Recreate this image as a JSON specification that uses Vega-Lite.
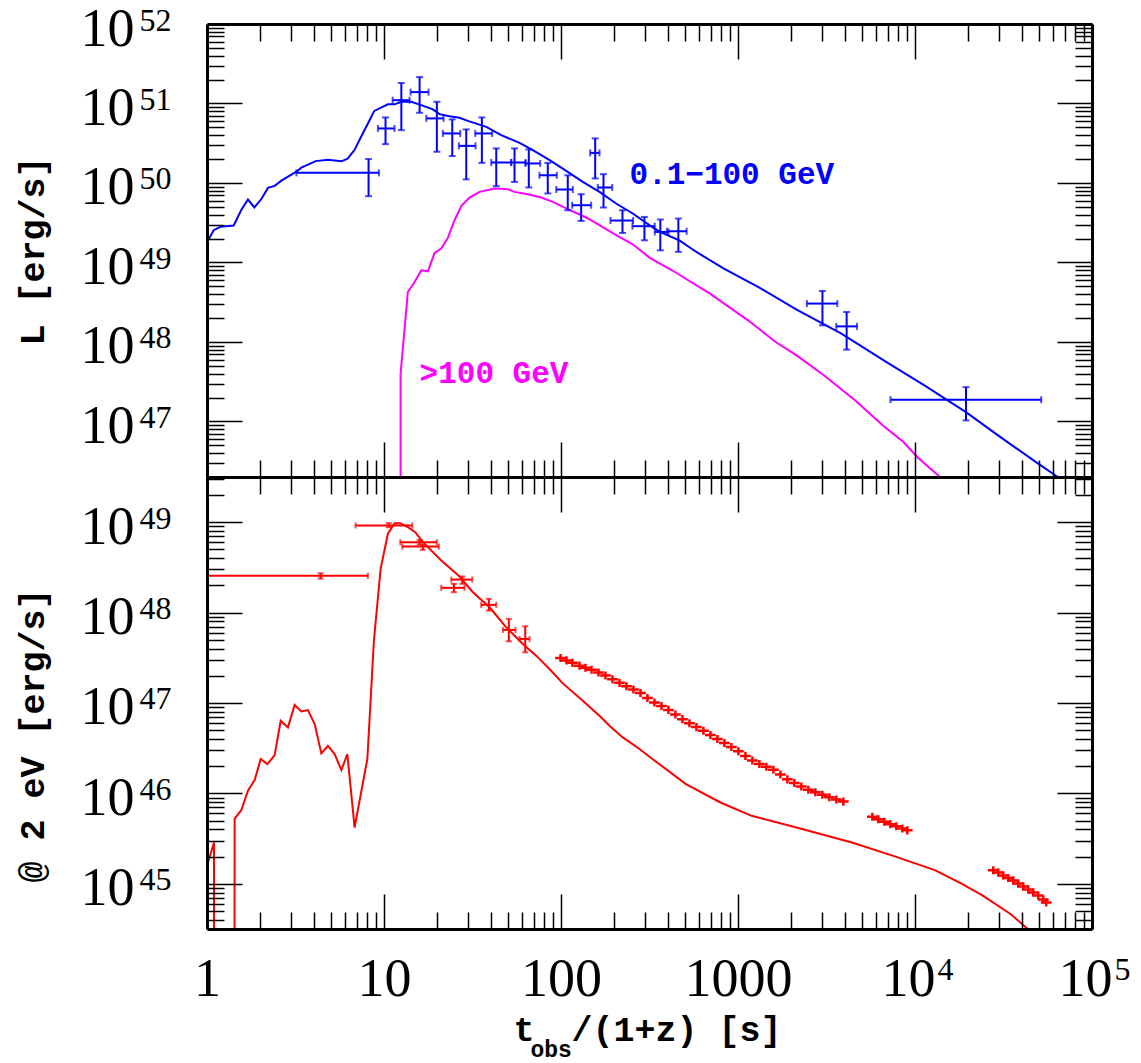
{
  "$schema": "https://vega.github.io/schema/vega-lite/v6.json",
  "padding": {"left": 15, "top": 2, "right": 0, "bottom": 12},
  "background": "white",
  "config": {"view": {"stroke": null}, "axis": {"grid": false}},
  "spacing": 0,
  "bounds": "flush",
  "datasets": {
    "blueModel": [{"x":1.0,"y":1.795e49},{"x":1.091,"y":2.547e49},{"x":1.195,"y":2.818e49},{"x":1.415,"y":2.917e49},{"x":1.564,"y":4.61e49},{"x":1.704,"y":6.19e49},{"x":1.852,"y":4.92e49},{"x":2.028,"y":6.28e49},{"x":2.21,"y":8.67e49},{"x":2.411,"y":9.2e49},{"x":2.631,"y":1.069e50},{"x":3.198,"y":1.387e50},{"x":3.412,"y":1.56e50},{"x":4.111,"y":1.884e50},{"x":4.823,"y":1.963e50},{"x":5.741,"y":1.871e50},{"x":6.232,"y":2.023e50},{"x":6.823,"y":2.612e50},{"x":7.52,"y":4.04e50},{"x":8.111,"y":5.61e50},{"x":8.814,"y":8.07e50},{"x":10.52,"y":9.77e50},{"x":11.48,"y":9.75e50},{"x":12.52,"y":1.05e51},{"x":14.26,"y":1.05e51},{"x":16.24,"y":9.55e50},{"x":18.89,"y":8.43e50},{"x":20.6,"y":7.35e50},{"x":23.46,"y":6.93e50},{"x":26.72,"y":6.61e50},{"x":29.77,"y":6.05e50},{"x":37.83,"y":5.09e50},{"x":45.94,"y":4.0e50},{"x":58.29,"y":3.2e50},{"x":69.3,"y":2.588e50},{"x":86.2,"y":1.936e50},{"x":109.2,"y":1.38e50},{"x":132.8,"y":1.033e50},{"x":164.9,"y":7.73e49},{"x":204.9,"y":5.52e49},{"x":254.3,"y":4.13e49},{"x":316,"y":2.944e49},{"x":362.3,"y":2.421e49},{"x":464.5,"y":1.905e49},{"x":582,"y":1.355e49},{"x":832,"y":8.38e48},{"x":1305,"y":4.91e48},{"x":2143,"y":2.553e48},{"x":3839,"y":1.271e48},{"x":6902,"y":5.58e47},{"x":11300,"y":2.838e47},{"x":19400,"y":1.309e47},{"x":30400,"y":6.34e46},{"x":49900,"y":2.931e46},{"x":61100,"y":2.148e46},{"x":70000,"y":1.746e46}],
    "magentaModel": [{"x":12.41,"y":1e45},{"x":12.41,"y":3.99e47},{"x":13.64,"y":4.25e48},{"x":14.89,"y":5.68e48},{"x":16.24,"y":7.98e48},{"x":17.7,"y":7.74e48},{"x":19.31,"y":1.318e49},{"x":21.06,"y":1.496e49},{"x":22.95,"y":2.037e49},{"x":25.04,"y":3.4e49},{"x":27.33,"y":5.11e49},{"x":30.43,"y":6.56e49},{"x":34.67,"y":7.73e49},{"x":42.13,"y":8.53e49},{"x":50.07,"y":8.36e49},{"x":54.6,"y":7.73e49},{"x":64.9,"y":7.23e49},{"x":77.3,"y":6.56e49},{"x":89.9,"y":5.78e49},{"x":107,"y":4.78e49},{"x":138.7,"y":3.68e49},{"x":164.9,"y":2.944e49},{"x":204.9,"y":2.203e49},{"x":254.3,"y":1.694e49},{"x":316,"y":1.153e49},{"x":424,"y":7.98e48},{"x":695,"y":4.06e48},{"x":1140,"y":1.871e48},{"x":1634,"y":9.98e47},{"x":2143,"y":6.78e47},{"x":3068,"y":3.79e47},{"x":4603,"y":1.837e47},{"x":6590,"y":8.91e46},{"x":8640,"y":5.48e46},{"x":10330,"y":3.55e46},{"x":13540,"y":2.089e46},{"x":15600,"y":1.611e46}],
    "topCross": [
      {"x":8.18,"xlo":3.2,"xhi":9.36,"y":1.34e50,"ylo":6.82e49,"yhi":2.0e50},
      {"x":10.2,"xlo":9.24,"xhi":11.47,"y":4.85e50,"ylo":3.08e50,"yhi":6.68e50},
      {"x":12.53,"xlo":11.19,"xhi":13.95,"y":1.1e51,"ylo":4.62e50,"yhi":1.81e51},
      {"x":15.89,"xlo":14.13,"xhi":17.85,"y":1.39e51,"ylo":7.64e50,"yhi":2.15e51},
      {"x":19.89,"xlo":17.34,"xhi":21.7,"y":6.49e50,"ylo":2.47e50,"yhi":1.05e51},
      {"x":24.3,"xlo":21.51,"xhi":26.97,"y":4.2e50,"ylo":2.18e50,"yhi":6.31e50},
      {"x":29.15,"xlo":26.49,"xhi":32.9,"y":2.93e50,"ylo":1.11e50,"yhi":4.72e50},
      {"x":35.72,"xlo":32.77,"xhi":40.88,"y":4.2e50,"ylo":1.79e50,"yhi":6.68e50},
      {"x":43.07,"xlo":40.36,"xhi":52.34,"y":1.81e50,"ylo":9.11e49,"yhi":2.72e50},
      {"x":54.63,"xlo":52.34,"xhi":63.03,"y":1.81e50,"ylo":1.03e50,"yhi":2.72e50},
      {"x":65.79,"xlo":63.03,"xhi":76.3,"y":1.76e50,"ylo":8.78e49,"yhi":2.64e50},
      {"x":84.2,"xlo":75.6,"xhi":94.7,"y":1.25e50,"ylo":7.38e49,"yhi":1.79e50},
      {"x":109.2,"xlo":94.0,"xhi":116.6,"y":8.28e49,"ylo":4.54e49,"yhi":1.25e50},
      {"x":130.0,"xlo":115.7,"xhi":148.1,"y":5.25e49,"ylo":3.33e49,"yhi":7.22e49},
      {"x":156.0,"xlo":146.2,"xhi":165.0,"y":2.39e50,"ylo":1.14e50,"yhi":3.64e50},
      {"x":173.8,"xlo":161.4,"xhi":194.6,"y":8.78e49,"ylo":4.91e49,"yhi":1.29e50},
      {"x":222.5,"xlo":190.3,"xhi":255.4,"y":3.37e49,"ylo":2.35e49,"yhi":4.54e49},
      {"x":296.1,"xlo":253.1,"xhi":338.6,"y":2.86e49,"ylo":1.9e49,"yhi":3.74e49},
      {"x":364.1,"xlo":338.6,"xhi":405.6,"y":2.42e49,"ylo":1.42e49,"yhi":3.47e49},
      {"x":460.3,"xlo":396.8,"xhi":512.7,"y":2.47e49,"ylo":1.36e49,"yhi":3.57e49},
      {"x":3000,"xlo":2449,"xhi":3641,"y":3.04e48,"ylo":1.62e48,"yhi":4.38e48},
      {"x":4110,"xlo":3590,"xhi":4705,"y":1.57e48,"ylo":8.0e47,"yhi":2.38e48},
      {"x":19410,"xlo":7273,"xhi":51650,"y":1.88e47,"ylo":1.03e47,"yhi":2.7e47}
    ],
    "redModel": [{"x":1.0,"y":1e43},{"x":1.0,"y":1.578e45},{"x":1.095,"y":2.858e45},{"x":1.098,"y":1e43},{"x":1.428,"y":1e43},{"x":1.433,"y":5.27e45},{"x":1.564,"y":6.53e45},{"x":1.704,"y":1.069e46},{"x":1.859,"y":1.403e46},{"x":2.011,"y":2.399e46},{"x":2.193,"y":2.109e46},{"x":2.411,"y":2.655e46},{"x":2.608,"y":6.37e46},{"x":2.866,"y":5.37e46},{"x":3.128,"y":9.51e46},{"x":3.412,"y":8.07e46},{"x":3.718,"y":8.36e46},{"x":4.057,"y":5.85e46},{"x":4.426,"y":2.767e46},{"x":4.823,"y":3.365e46},{"x":5.262,"y":2.723e46},{"x":5.741,"y":1.811e46},{"x":6.206,"y":2.723e46},{"x":6.823,"y":4.19e45},{"x":8.05,"y":2.399e46},{"x":8.22,"y":4.93e46},{"x":8.77,"y":4.9e47},{"x":9.57,"y":3.05e48},{"x":10.52,"y":7.45e48},{"x":11.48,"y":9.75e48},{"x":12.36,"y":9.75e48},{"x":13.64,"y":8.81e48},{"x":15.02,"y":7.74e48},{"x":16.59,"y":6.01e48},{"x":21.06,"y":3.77e48},{"x":26.72,"y":2.506e48},{"x":31.77,"y":1.679e48},{"x":39.48,"y":1.146e48},{"x":49.05,"y":6.87e47},{"x":60.86,"y":4.5e47},{"x":72.4,"y":3.34e47},{"x":86.1,"y":2.377e47},{"x":102.4,"y":1.648e47},{"x":132.8,"y":1.059e47},{"x":144.8,"y":9.1e46},{"x":164.9,"y":7.23e46},{"x":187.8,"y":5.61e46},{"x":223.5,"y":4.16e46},{"x":277.6,"y":3.1e46},{"x":338.6,"y":2.3e46},{"x":507.9,"y":1.268e46},{"x":796.5,"y":7.93e45},{"x":1193.6,"y":5.65e45},{"x":2142,"y":4.19e45},{"x":4397,"y":2.858e45},{"x":7543,"y":2.037e45},{"x":12940,"y":1.416e45},{"x":18550,"y":9.91e44},{"x":24280,"y":7.35e44},{"x":34800,"y":4.6e44},{"x":43570,"y":3.14e44},{"x":50350,"y":2.33e44}],
    "botCross": [
      {"x":4.385,"xlo":0.66,"xhi":8.11,"y":2.55e48,"ylo":2.38e48,"yhi":2.72e48},
      {"x":10.66,"xlo":6.91,"xhi":14.45,"y":9.19e48,"ylo":8.8e48,"yhi":9.75e48},
      {"x":15.89,"xlo":12.36,"xhi":19.89,"y":6.0e48,"ylo":5.66e48,"yhi":6.38e48},
      {"x":16.59,"xlo":12.69,"xhi":20.42,"y":5.38e48,"ylo":4.95e48,"yhi":5.66e48},
      {"x":27.68,"xlo":23.99,"xhi":31.52,"y":2.32e48,"ylo":2.08e48,"yhi":2.51e48},
      {"x":24.81,"xlo":21.06,"xhi":28.52,"y":1.88e48,"ylo":1.68e48,"yhi":2.08e48},
      {"x":39.12,"xlo":35.43,"xhi":43.07,"y":1.217e48,"ylo":1.053e48,"yhi":1.418e48},
      {"x":50.74,"xlo":46.93,"xhi":55.36,"y":6.43e47,"ylo":4.81e47,"yhi":8.52e47},
      {"x":62.8,"xlo":58.3,"xhi":66.4,"y":5.11e47,"ylo":3.63e47,"yhi":7.05e47}
    ],
    "band": [{"x":99.4,"y":3.15e47},{"x":107.4,"y":2.96e47},{"x":116.1,"y":2.78e47},{"x":127.2,"y":2.59e47},{"x":137.5,"y":2.45e47},{"x":148.7,"y":2.33e47},{"x":162.9,"y":2.18e47},{"x":178.4,"y":2.01e47},{"x":195.4,"y":1.83e47},{"x":214.0,"y":1.67e47},{"x":234.4,"y":1.53e47},{"x":256.7,"y":1.41e47},{"x":281.1,"y":1.29e47},{"x":307.9,"y":1.136e47},{"x":337.3,"y":1.015e47},{"x":369.4,"y":9.24e46},{"x":404.6,"y":8.39e46},{"x":443.2,"y":7.46e46},{"x":485.4,"y":6.63e46},{"x":531.7,"y":5.96e46},{"x":582.4,"y":5.41e46},{"x":637.8,"y":4.92e46},{"x":698.6,"y":4.43e46},{"x":765.1,"y":4.0e46},{"x":838.1,"y":3.61e46},{"x":917.8,"y":3.26e46},{"x":1005,"y":2.93e46},{"x":1101,"y":2.6e46},{"x":1206,"y":2.31e46},{"x":1321,"y":2.11e46},{"x":1447,"y":1.97e46},{"x":1585,"y":1.83e46},{"x":1736,"y":1.62e46},{"x":1901,"y":1.43e46},{"x":2082,"y":1.3e46},{"x":2280,"y":1.19e46},{"x":2497,"y":1.1e46},{"x":2735,"y":1.03e46},{"x":2996,"y":9.67e45},{"x":3282,"y":9.08e45},{"x":3594,"y":8.54e45},{"x":3937,"y":8.11e45},{"x":5741,"y":5.51e45},{"x":6206,"y":5.17e45},{"x":6708,"y":4.85e45},{"x":7254,"y":4.57e45},{"x":7843,"y":4.32e45},{"x":8479,"y":4.09e45},{"x":9048,"y":3.9e45},{"x":27680,"y":1.415e45},{"x":29540,"y":1.337e45},{"x":31520,"y":1.239e45},{"x":33640,"y":1.162e45},{"x":35910,"y":1.091e45},{"x":38310,"y":1.01e45},{"x":40890,"y":9.36e44},{"x":43630,"y":8.67e44},{"x":46560,"y":8.03e44},{"x":49700,"y":7.44e44},{"x":53030,"y":6.72e44},{"x":55130,"y":6.22e44}],
    "blueLabel": [{"x":243.7,"y":1.27e50,"text":"0.1−100 GeV"}],
    "magLabel": [{"x":15.89,"y":3.91e47,"text":">100 GeV"}]
  },
  "vconcat": [
    {
      "width": 885,
      "height": 453,
      "resolve": {"axis": {"x": "independent", "y": "independent"}},
      "layer": [
        {
          "data": {"name": "blueModel"},
          "mark": {"type": "line", "color": "#0000ff", "strokeWidth": 2, "clip": true},
          "encoding": {
            "x": {"field": "x", "type": "quantitative", "scale": {"type": "log", "domain": [1, 100000], "nice": false},
              "axis": {"orient": "bottom", "values": [1,2,3,4,5,6,7,8,9,10,20,30,40,50,60,70,80,90,100,200,300,400,500,600,700,800,900,1000,2000,3000,4000,5000,6000,7000,8000,9000,10000,20000,30000,40000,50000,60000,70000,80000,90000,100000],
                "tickSize": {"condition": {"test": "abs(log(datum.value)/LN10 - round(log(datum.value)/LN10)) < 0.001", "value": -35}, "value": -17},
                "labels": false, "title": null, "domain": true, "domainWidth": 3, "domainColor": "#000000", "tickColor": "#000000", "tickWidth": 1.5, "zindex": 1}},
            "y": {"field": "y", "type": "quantitative", "scale": {"type": "log", "domain": [2e46, 1e52], "nice": false},
              "axis": {"orient": "left", "values": [2e46,3e46,4e46,5e46,6e46,7e46,8e46,9e46,1e47,2e47,3e47,4e47,5e47,6e47,7e47,8e47,9e47,1e48,2e48,3e48,4e48,5e48,6e48,7e48,8e48,9e48,1e49,2e49,3e49,4e49,5e49,6e49,7e49,8e49,9e49,1e50,2e50,3e50,4e50,5e50,6e50,7e50,8e50,9e50,1e51,2e51,3e51,4e51,5e51,6e51,7e51,8e51,9e51,1e52],
                "tickSize": {"condition": {"test": "abs(log(datum.value)/LN10 - round(log(datum.value)/LN10)) < 0.001", "value": -35}, "value": -17},
                "labelExpr": "abs(log(datum.value)/LN10 - round(log(datum.value)/LN10)) < 0.001 ? '10' : ''",
                "labelFont": "Liberation Serif", "labelFontSize": 54, "labelColor": "#000000", "labelPadding": 108, "labelAlign": "right", "labelBaseline": "top", "labelOffset": -22,
                "labelOverlap": false, "labelBound": false, "labelFlush": false,
                "title": "L [erg/s]", "titleFont": "Liberation Mono", "titleFontSize": 35, "titleFontWeight": "bold", "titleColor": "#000000", "titlePadding": 30,
                "domain": true, "domainWidth": 3, "domainColor": "#000000", "tickColor": "#000000", "tickWidth": 1.5, "zindex": 1}},
            "order": {"value": null}
          }
        },
        {
          "data": {"name": "magentaModel"},
          "mark": {"type": "line", "color": "#ff00ff", "strokeWidth": 2, "clip": true},
          "encoding": {
            "x": {"field": "x", "type": "quantitative", "scale": {"type": "log", "domain": [1, 100000], "nice": false},
              "axis": {"orient": "top", "values": [1,2,3,4,5,6,7,8,9,10,20,30,40,50,60,70,80,90,100,200,300,400,500,600,700,800,900,1000,2000,3000,4000,5000,6000,7000,8000,9000,10000,20000,30000,40000,50000,60000,70000,80000,90000,100000],
                "tickSize": {"condition": {"test": "abs(log(datum.value)/LN10 - round(log(datum.value)/LN10)) < 0.001", "value": -35}, "value": -17},
                "labels": false, "title": null, "domain": true, "domainWidth": 3, "domainColor": "#000000", "tickColor": "#000000", "tickWidth": 1.5, "zindex": 1}},
            "y": {"field": "y", "type": "quantitative", "scale": {"type": "log", "domain": [2e46, 1e52], "nice": false},
              "axis": {"orient": "right", "values": [2e46,3e46,4e46,5e46,6e46,7e46,8e46,9e46,1e47,2e47,3e47,4e47,5e47,6e47,7e47,8e47,9e47,1e48,2e48,3e48,4e48,5e48,6e48,7e48,8e48,9e48,1e49,2e49,3e49,4e49,5e49,6e49,7e49,8e49,9e49,1e50,2e50,3e50,4e50,5e50,6e50,7e50,8e50,9e50,1e51,2e51,3e51,4e51,5e51,6e51,7e51,8e51,9e51,1e52],
                "tickSize": {"condition": {"test": "abs(log(datum.value)/LN10 - round(log(datum.value)/LN10)) < 0.001", "value": -35}, "value": -17},
                "labels": false, "title": null, "domain": true, "domainWidth": 3, "domainColor": "#000000", "tickColor": "#000000", "tickWidth": 1.5, "zindex": 1}},
            "order": {"value": null}
          }
        },
        {
          "data": {"name": "topCross"},
          "mark": {"type": "rule", "color": "#0000ff", "strokeWidth": 2, "clip": true},
          "encoding": {
            "x": {"field": "x", "type": "quantitative", "scale": {"type": "log", "domain": [1, 100000], "nice": false}, "axis": null},
            "y": {"field": "ylo", "type": "quantitative", "scale": {"type": "log", "domain": [2e46, 1e52], "nice": false},
              "axis": {"orient": "left", "values": [1e47,1e48,1e49,1e50,1e51,1e52], "ticks": false, "domain": false,
                "labelExpr": "'' + round(log(datum.value)/LN10)",
                "labelFont": "Liberation Serif", "labelFontSize": 32, "labelColor": "#000000", "labelPadding": 68, "labelAlign": "left", "labelBaseline": "middle", "labelOffset": -4,
                "labelOverlap": false, "labelBound": false, "labelFlush": false, "title": null, "zindex": 1}},
            "y2": {"field": "yhi"}
          }
        },
        {
          "data": {"name": "topCross"},
          "mark": {"type": "rule", "color": "#0000ff", "strokeWidth": 2, "clip": true},
          "encoding": {
            "x": {"field": "xlo", "type": "quantitative", "scale": {"type": "log", "domain": [1, 100000], "nice": false}, "axis": null},
            "x2": {"field": "xhi"},
            "y": {"field": "y", "type": "quantitative", "scale": {"type": "log", "domain": [2e46, 1e52], "nice": false}, "axis": null}
          }
        },
        {
          "data": {"name": "topCross"},
          "transform": [{"fold": ["ylo", "yhi"], "as": ["end", "v"]}],
          "mark": {"type": "tick", "orient": "horizontal", "color": "#0000ff", "size": 7, "thickness": 2, "clip": true},
          "encoding": {
            "x": {"field": "x", "type": "quantitative", "scale": {"type": "log", "domain": [1, 100000], "nice": false}, "axis": null},
            "y": {"field": "v", "type": "quantitative", "scale": {"type": "log", "domain": [2e46, 1e52], "nice": false}, "axis": null}
          }
        },
        {
          "data": {"name": "topCross"},
          "transform": [{"fold": ["xlo", "xhi"], "as": ["end", "v"]}],
          "mark": {"type": "tick", "orient": "vertical", "color": "#0000ff", "size": 7, "thickness": 2, "clip": true},
          "encoding": {
            "x": {"field": "v", "type": "quantitative", "scale": {"type": "log", "domain": [1, 100000], "nice": false}, "axis": null},
            "y": {"field": "y", "type": "quantitative", "scale": {"type": "log", "domain": [2e46, 1e52], "nice": false}, "axis": null}
          }
        },
        {
          "data": {"name": "blueLabel"},
          "mark": {"type": "text", "color": "#0000ff", "font": "Liberation Mono", "fontSize": 31, "fontWeight": "bold", "align": "left", "baseline": "middle"},
          "encoding": {
            "x": {"field": "x", "type": "quantitative", "scale": {"type": "log", "domain": [1, 100000], "nice": false}, "axis": null},
            "y": {"field": "y", "type": "quantitative", "scale": {"type": "log", "domain": [2e46, 1e52], "nice": false}, "axis": null},
            "text": {"field": "text"}
          }
        },
        {
          "data": {"name": "magLabel"},
          "mark": {"type": "text", "color": "#ff00ff", "font": "Liberation Mono", "fontSize": 31, "fontWeight": "bold", "align": "left", "baseline": "middle"},
          "encoding": {
            "x": {"field": "x", "type": "quantitative", "scale": {"type": "log", "domain": [1, 100000], "nice": false}, "axis": null},
            "y": {"field": "y", "type": "quantitative", "scale": {"type": "log", "domain": [2e46, 1e52], "nice": false}, "axis": null},
            "text": {"field": "text"}
          }
        }
      ]
    },
    {
      "width": 885,
      "height": 452,
      "resolve": {"axis": {"x": "independent", "y": "independent"}},
      "layer": [
        {
          "data": {"name": "redModel"},
          "mark": {"type": "line", "color": "#ff0000", "strokeWidth": 2, "clip": true},
          "encoding": {
            "x": {"field": "x", "type": "quantitative", "scale": {"type": "log", "domain": [1, 100000], "nice": false},
              "axis": {"orient": "bottom", "values": [1,2,3,4,5,6,7,8,9,10,20,30,40,50,60,70,80,90,100,200,300,400,500,600,700,800,900,1000,2000,3000,4000,5000,6000,7000,8000,9000,10000,20000,30000,40000,50000,60000,70000,80000,90000,100000],
                "tickSize": {"condition": {"test": "abs(log(datum.value)/LN10 - round(log(datum.value)/LN10)) < 0.001", "value": -35}, "value": -17},
                "labelExpr": "datum.value == 1 ? '1' : datum.value == 10 ? '10' : datum.value == 100 ? '100' : datum.value == 1000 ? '1000' : (datum.value == 10000 || datum.value == 100000) ? '10' : ''",
                "labelFont": "Liberation Serif", "labelFontSize": 54, "labelColor": "#000000", "labelPadding": 58, "labelAlign": "center", "labelBaseline": "top",
                "labelOffset": {"condition": {"test": "datum.value > 5000", "value": -7}, "value": 0},
                "labelOverlap": false, "labelBound": false, "labelFlush": false,
                "title": null, "domain": true, "domainWidth": 3, "domainColor": "#000000", "tickColor": "#000000", "tickWidth": 1.5, "zindex": 1}},
            "y": {"field": "y", "type": "quantitative", "scale": {"type": "log", "domain": [3.162e44, 3.162e49], "nice": false},
              "axis": {"orient": "left", "values": [4e44,5e44,6e44,7e44,8e44,9e44,1e45,2e45,3e45,4e45,5e45,6e45,7e45,8e45,9e45,1e46,2e46,3e46,4e46,5e46,6e46,7e46,8e46,9e46,1e47,2e47,3e47,4e47,5e47,6e47,7e47,8e47,9e47,1e48,2e48,3e48,4e48,5e48,6e48,7e48,8e48,9e48,1e49,2e49,3e49],
                "tickSize": {"condition": {"test": "abs(log(datum.value)/LN10 - round(log(datum.value)/LN10)) < 0.001", "value": -35}, "value": -17},
                "labelExpr": "abs(log(datum.value)/LN10 - round(log(datum.value)/LN10)) < 0.001 ? '10' : ''",
                "labelFont": "Liberation Serif", "labelFontSize": 54, "labelColor": "#000000", "labelPadding": 108, "labelAlign": "right", "labelBaseline": "top", "labelOffset": -22,
                "labelOverlap": false, "labelBound": false, "labelFlush": false,
                "title": "@ 2 eV [erg/s]", "titleFont": "Liberation Mono", "titleFontSize": 35, "titleFontWeight": "bold", "titleColor": "#000000", "titlePadding": 30, "titleY": 258,
                "domain": true, "domainWidth": 3, "domainColor": "#000000", "tickColor": "#000000", "tickWidth": 1.5, "zindex": 1}},
            "order": {"value": null}
          }
        },
        {
          "data": {"name": "botCross"},
          "mark": {"type": "rule", "color": "#ff0000", "strokeWidth": 2, "clip": true},
          "encoding": {
            "x": {"field": "x", "type": "quantitative", "scale": {"type": "log", "domain": [1, 100000], "nice": false},
              "axis": {"orient": "bottom", "values": [10000, 100000], "ticks": false, "domain": false,
                "labelExpr": "datum.value == 10000 ? '4' : '5'",
                "labelFont": "Liberation Serif", "labelFontSize": 32, "labelColor": "#000000", "labelPadding": 25, "labelAlign": "left", "labelBaseline": "top", "labelOffset": 22,
                "labelOverlap": false, "labelBound": false, "labelFlush": false, "title": null, "zindex": 1}},
            "y": {"field": "ylo", "type": "quantitative", "scale": {"type": "log", "domain": [3.162e44, 3.162e49], "nice": false},
              "axis": {"orient": "left", "values": [1e45,1e46,1e47,1e48,1e49], "ticks": false, "domain": false,
                "labelExpr": "'' + round(log(datum.value)/LN10)",
                "labelFont": "Liberation Serif", "labelFontSize": 32, "labelColor": "#000000", "labelPadding": 68, "labelAlign": "left", "labelBaseline": "middle", "labelOffset": -4,
                "labelOverlap": false, "labelBound": false, "labelFlush": false, "title": null, "zindex": 1}},
            "y2": {"field": "yhi"}
          }
        },
        {
          "data": {"name": "botCross"},
          "mark": {"type": "rule", "color": "#ff0000", "strokeWidth": 2, "clip": true},
          "encoding": {
            "x": {"field": "xlo", "type": "quantitative", "scale": {"type": "log", "domain": [1, 100000], "nice": false},
              "axis": {"orient": "top", "values": [1,2,3,4,5,6,7,8,9,10,20,30,40,50,60,70,80,90,100,200,300,400,500,600,700,800,900,1000,2000,3000,4000,5000,6000,7000,8000,9000,10000,20000,30000,40000,50000,60000,70000,80000,90000,100000],
                "tickSize": {"condition": {"test": "abs(log(datum.value)/LN10 - round(log(datum.value)/LN10)) < 0.001", "value": -35}, "value": -17},
                "labels": false, "title": null, "domain": true, "domainWidth": 3, "domainColor": "#000000", "tickColor": "#000000", "tickWidth": 1.5, "zindex": 1}},
            "x2": {"field": "xhi"},
            "y": {"field": "y", "type": "quantitative", "scale": {"type": "log", "domain": [3.162e44, 3.162e49], "nice": false},
              "axis": {"orient": "right", "values": [4e44,5e44,6e44,7e44,8e44,9e44,1e45,2e45,3e45,4e45,5e45,6e45,7e45,8e45,9e45,1e46,2e46,3e46,4e46,5e46,6e46,7e46,8e46,9e46,1e47,2e47,3e47,4e47,5e47,6e47,7e47,8e47,9e47,1e48,2e48,3e48,4e48,5e48,6e48,7e48,8e48,9e48,1e49,2e49,3e49],
                "tickSize": {"condition": {"test": "abs(log(datum.value)/LN10 - round(log(datum.value)/LN10)) < 0.001", "value": -35}, "value": -17},
                "labels": false, "title": null, "domain": true, "domainWidth": 3, "domainColor": "#000000", "tickColor": "#000000", "tickWidth": 1.5, "zindex": 1}}
          }
        },
        {
          "data": {"name": "botCross"},
          "transform": [{"fold": ["ylo", "yhi"], "as": ["end", "v"]}],
          "mark": {"type": "tick", "orient": "horizontal", "color": "#ff0000", "size": 6, "thickness": 2, "clip": true},
          "encoding": {
            "x": {"field": "x", "type": "quantitative", "scale": {"type": "log", "domain": [1, 100000], "nice": false},
              "axis": {"orient": "bottom", "ticks": false, "labels": false, "domain": false, "title": "t", "titleX": 306, "titleY": 111, "titleAlign": "left", "titleBaseline": "alphabetic", "titleAnchor": "start", "titleFont": "Liberation Mono", "titleFontSize": 35, "titleFontWeight": "bold", "titleColor": "#000000", "zindex": 1}},
            "y": {"field": "v", "type": "quantitative", "scale": {"type": "log", "domain": [3.162e44, 3.162e49], "nice": false}, "axis": null}
          }
        },
        {
          "data": {"name": "botCross"},
          "transform": [{"fold": ["xlo", "xhi"], "as": ["end", "v"]}],
          "mark": {"type": "tick", "orient": "vertical", "color": "#ff0000", "size": 6, "thickness": 2, "clip": true},
          "encoding": {
            "x": {"field": "v", "type": "quantitative", "scale": {"type": "log", "domain": [1, 100000], "nice": false},
              "axis": {"orient": "bottom", "ticks": false, "labels": false, "domain": false, "title": "obs", "titleX": 323, "titleY": 127, "titleAlign": "left", "titleBaseline": "alphabetic", "titleAnchor": "start", "titleFont": "Liberation Mono", "titleFontSize": 23, "titleFontWeight": "bold", "titleColor": "#000000", "zindex": 1}},
            "y": {"field": "y", "type": "quantitative", "scale": {"type": "log", "domain": [3.162e44, 3.162e49], "nice": false}, "axis": null}
          }
        },
        {
          "data": {"name": "band"},
          "mark": {"type": "point", "shape": "M-1.6,0H1.6M0,-1.2V1.2", "filled": false, "color": "#ff0000", "strokeWidth": 2.5, "size": 45, "opacity": 1},
          "encoding": {
            "x": {"field": "x", "type": "quantitative", "scale": {"type": "log", "domain": [1, 100000], "nice": false},
              "axis": {"orient": "bottom", "ticks": false, "labels": false, "domain": false, "title": "/(1+z) [s]", "titleX": 364, "titleY": 111, "titleAlign": "left", "titleBaseline": "alphabetic", "titleAnchor": "start", "titleFont": "Liberation Mono", "titleFontSize": 35, "titleFontWeight": "bold", "titleColor": "#000000", "zindex": 1}},
            "y": {"field": "y", "type": "quantitative", "scale": {"type": "log", "domain": [3.162e44, 3.162e49], "nice": false}, "axis": null}
          }
        }
      ]
    }
  ]
}
